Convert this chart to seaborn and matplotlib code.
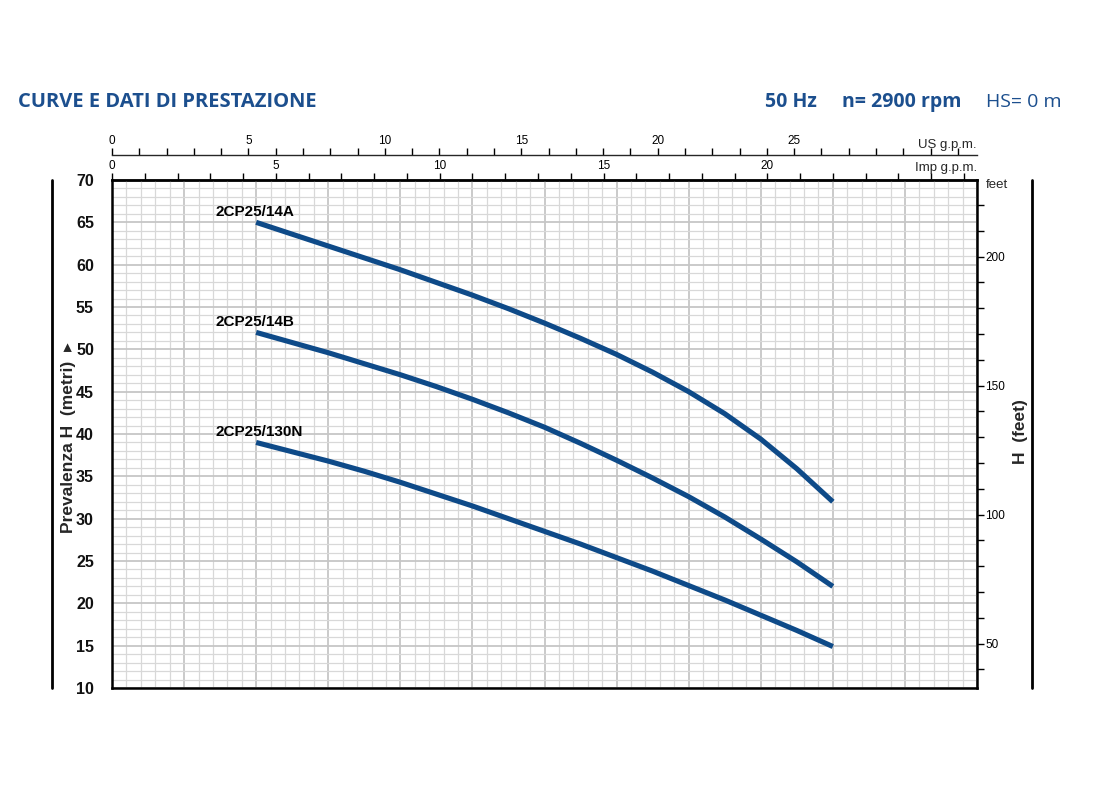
import numpy as np
import pandas as pd
import matplotlib
matplotlib.use("Agg")
import matplotlib.pyplot as plt
import seaborn as sns
from matplotlib.ticker import MultipleLocator, FixedLocator
from matplotlib.lines import Line2D

# ---------------- data ----------------
flow_lmin = [20, 25, 30, 35, 40, 45, 50, 55, 60, 65, 70, 75, 80, 85, 90, 95, 100]
head_14A = [65.0, 63.6, 62.2, 60.8, 59.4, 57.9, 56.4, 54.8, 53.1, 51.3, 49.4, 47.3, 45.0, 42.4, 39.4, 35.9, 32.0]
head_14B = [52.0, 50.8, 49.6, 48.3, 47.0, 45.6, 44.1, 42.5, 40.8, 38.9, 36.9, 34.8, 32.6, 30.2, 27.6, 24.9, 22.0]
head_130N = [39.0, 37.9, 36.8, 35.6, 34.3, 32.9, 31.5, 30.0, 28.5, 27.0, 25.4, 23.8, 22.1, 20.4, 18.6, 16.8, 14.9]
models = ["2CP25/14A", "2CP25/14B", "2CP25/130N"]

y_ticks_m = [10, 15, 20, 25, 30, 35, 40, 45, 50, 55, 60, 65, 70]
feet_ticks = [50, 100, 150, 200]
us_gpm_ticks = [0, 5, 10, 15, 20, 25]
imp_gpm_ticks = [0, 5, 10, 15, 20]

title_left = "CURVE E DATI DI PRESTAZIONE"
title_hz = "50 Hz"
title_rpm = "n= 2900 rpm"
title_hs = "HS= 0 m"

# ---------------- style ----------------
sns.set_theme(style="white")
NARROW = ["Liberation Sans", "DejaVu Sans"]
plt.rcParams["font.family"] = NARROW
BLUE = "#0E4A88"
TITLE_BLUE = "#1C4F8E"

df = pd.DataFrame({
    "Q": flow_lmin * 3,
    "H": head_14A + head_14B + head_130N,
    "model": [models[0]] * len(flow_lmin) + [models[1]] * len(flow_lmin) + [models[2]] * len(flow_lmin),
})

W, H = 1100, 800
fig = plt.figure(figsize=(11, 8), dpi=100)
L, R, T, B = 112, 977, 180, 688
ax = fig.add_axes([L / W, 1 - B / H, (R - L) / W, (B - T) / H])

sns.lineplot(data=df, x="Q", y="H", hue="model", palette=[BLUE] * 3,
             linewidth=3.7, legend=False, ax=ax, estimator=None, sort=False,
             solid_capstyle="butt", solid_joinstyle="round")

ax.set_xlim(0, 120)
ax.set_ylim(10, 70)
ax.set_xlabel("")
ax.set_ylabel("")

ax.xaxis.set_major_locator(MultipleLocator(10))
ax.xaxis.set_minor_locator(MultipleLocator(2))
ax.yaxis.set_major_locator(FixedLocator(y_ticks_m))
ax.yaxis.set_minor_locator(MultipleLocator(1))
ax.grid(which="minor", color="#d8d8d8", linewidth=0.9)
ax.grid(which="major", color="#c6c6c6", linewidth=1.3)
ax.set_axisbelow(True)

ax.tick_params(axis="x", which="both", bottom=False, top=False, labelbottom=False)
ax.tick_params(axis="y", which="both", left=False, right=False, labelsize=11.5, pad=7,
               labelcolor="#111111")
for lab in ax.get_yticklabels():
    lab.set_fontweight("bold")
for s in ax.spines.values():
    s.set_color("black")
    s.set_linewidth(1.8)
    s.set_visible(True)

# curve labels
for name, heads in zip(models, [head_14A, head_14B, head_130N]):
    ax.text(14.3, heads[0] + 1.25, name, fontsize=11, fontweight="bold",
            va="center", ha="left", color="black")

# secondary axes (Imp / US gpm)
L_PER_IMP = 4.54609
L_PER_US = 3.785411784
imp = ax.secondary_xaxis("top", functions=(lambda q: q / L_PER_IMP, lambda g: g * L_PER_IMP))
imp.xaxis.set_major_locator(FixedLocator(imp_gpm_ticks))
imp.xaxis.set_minor_locator(MultipleLocator(1))
imp.tick_params(which="both", direction="out", length=5, width=1, labelsize=8.5, pad=1, colors="black")
imp.spines["top"].set_linewidth(1.8)

us = ax.secondary_xaxis(1 + 25 / (B - T), functions=(lambda q: q / L_PER_US, lambda g: g * L_PER_US))
us.xaxis.set_major_locator(FixedLocator(us_gpm_ticks))
us.xaxis.set_minor_locator(MultipleLocator(1))
us.tick_params(which="both", direction="out", length=5, width=1, labelsize=8.5, pad=1, colors="black")
us.spines["top"].set_linewidth(1.0)

# feet axis
FT = 3.28084
ft = ax.secondary_yaxis("right", functions=(lambda m: m * FT, lambda f: f / FT))
ft.yaxis.set_major_locator(FixedLocator(feet_ticks))
ft.yaxis.set_minor_locator(MultipleLocator(10))
ft.tick_params(which="both", direction="out", length=5, width=1, labelsize=8.5, pad=1, colors="black")

fig.text(R / W, 1 - 145 / H, "US g.p.m.", fontsize=9.5, ha="right", va="center")
fig.text(R / W, 1 - 168 / H, "Imp g.p.m.", fontsize=9.5, ha="right", va="center")
fig.text(986 / W, 1 - 185 / H, "feet", fontsize=9.5, ha="left", va="center")

# side lines and axis titles
fig.add_artist(Line2D([52 / W, 52 / W], [1 - T / H, 1 - B / H], color="black", linewidth=2))
fig.add_artist(Line2D([1032 / W, 1032 / W], [1 - T / H, 1 - B / H], color="black", linewidth=2))
fig.text(68 / W, 1 - 438 / H, "Prevalenza H  (metri)  \u25b8", rotation=90, fontsize=12.5,
         fontweight="bold", ha="center", va="center", family=NARROW)
fig.text(1021 / W, 1 - 432 / H, "H  (feet)", rotation=90, fontsize=12.5,
         fontweight="bold", ha="center", va="center")

# titles
TFONT = ["Open Sans", "DejaVu Sans"]
fig.text(18 / W, 1 - 102 / H, title_left, fontsize=14.5, fontweight="bold", color=TITLE_BLUE,
         family=TFONT, ha="left", va="center")
fig.text(765 / W, 1 - 102 / H, title_hz, fontsize=14, fontweight="bold", color=TITLE_BLUE,
         family=TFONT, ha="left", va="center")
fig.text(842 / W, 1 - 102 / H, title_rpm, fontsize=14, fontweight="bold", color=TITLE_BLUE,
         family=TFONT, ha="left", va="center")
fig.text(986 / W, 1 - 102 / H, title_hs, fontsize=14, color=TITLE_BLUE,
         family=TFONT, ha="left", va="center")

fig.savefig("out.png", dpi=100, facecolor="white")
